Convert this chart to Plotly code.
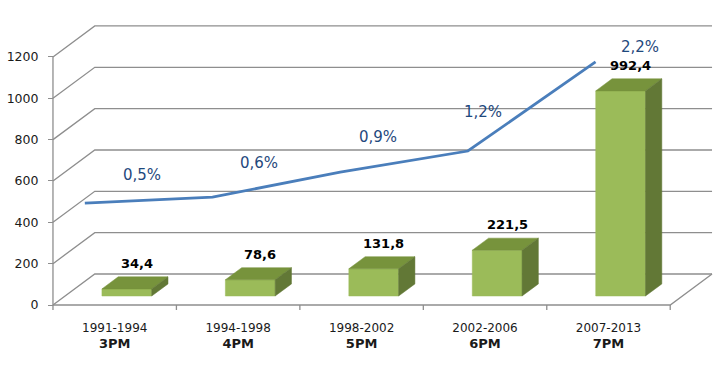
import plotly.graph_objects as go

# ---- data ----
periods = ["1991-1994", "1994-1998", "1998-2002", "2002-2006", "2007-2013"]
programmes = ["3PM", "4PM", "5PM", "6PM", "7PM"]
bar_values = [34.4, 78.6, 131.8, 221.5, 992.4]
bar_labels = ["34,4", "78,6", "131,8", "221,5", "992,4"]
line_values = [493, 522, 643, 745, 1176]          # line height read on the value axis
line_labels = ["0,5%", "0,6%", "0,9%", "1,2%", "2,2%"]
y_ticks = [0, 200, 400, 600, 800, 1000, 1200]

# ---- layout geometry (pixel mapping of the pseudo-3D frame) ----
W, H = 727, 365
L, R, T, B = 44, 720, 8, 312          # plot area in pixels
X0_PX, PX_PER_X = 112, 124.0          # category centre 0 on the front plane
Y0_PX, PX_PER_Y = 305, 0.2067         # value 0 on the front plane
X2_0_PX, PX_PER_X2 = 82, 128.25       # line series category positions

xr = [(L - X0_PX) / PX_PER_X, (R - X0_PX) / PX_PER_X]
yr = [(Y0_PX - B) / PX_PER_Y, (Y0_PX - T) / PX_PER_Y]
x2r = [(L - X2_0_PX) / PX_PER_X2, (R - X2_0_PX) / PX_PER_X2]

DEPTH_X = 42 / PX_PER_X               # full depth offset (x units)
DEPTH_Y = 31 / PX_PER_Y               # full depth offset (value units)
BAR_D1, BAR_D2 = 0.29, 0.68           # bar front/back depth fraction
BAR_HALF = 25 / PX_PER_X

grid_color = "#8e8e8e"
front_col, top_col, side_col = "#9bbb59", "#77933c", "#627836"

fig = go.Figure()

# gridlines (front-left edge -> back wall)
n = len(periods)
gx, gy = [], []
for t in y_ticks:
    gx += [-0.5, -0.5 + DEPTH_X, n - 0.5 + DEPTH_X, None]
    gy += [t, t + DEPTH_Y, t + DEPTH_Y, None]
# floor front edge and right edge
gx += [-0.5, n - 0.5, n - 0.5 + DEPTH_X, None]
gy += [0, 0, DEPTH_Y, None]
# vertical value axis line
gx += [-0.5, -0.5, None]
gy += [0, y_ticks[-1], None]
# category tick marks
tick_len = 5 / PX_PER_Y
for i in range(n + 1):
    gx += [i - 0.5, i - 0.5, None]
    gy += [0, -tick_len, None]
fig.add_trace(go.Scatter(x=gx, y=gy, mode="lines", line=dict(color=grid_color, width=1.3),
                         hoverinfo="skip", showlegend=False))

# bars (front, top, side faces)
b1 = BAR_D1 * DEPTH_Y
sx = BAR_D1 * DEPTH_X
ddx = (BAR_D2 - BAR_D1) * DEPTH_X
ddy = (BAR_D2 - BAR_D1) * DEPTH_Y
for i, v in enumerate(bar_values):
    xl, xr_ = i + sx - BAR_HALF, i + sx + BAR_HALF
    faces = [
        ([xl, xr_, xr_, xl, xl], [b1, b1, v + b1, v + b1, b1], front_col),
        ([xl, xr_, xr_ + ddx, xl + ddx, xl], [v + b1, v + b1, v + b1 + ddy, v + b1 + ddy, v + b1], top_col),
        ([xr_, xr_ + ddx, xr_ + ddx, xr_, xr_], [b1, b1 + ddy, v + b1 + ddy, v + b1, b1], side_col),
    ]
    for fx, fy, c in faces:
        fig.add_trace(go.Scatter(x=fx, y=fy, mode="lines", fill="toself", fillcolor=c,
                                 line=dict(color=c, width=0.5), hoverinfo="skip", showlegend=False))
    fig.add_annotation(x=i + sx + ddx / 2 + 2 / PX_PER_X, y=v + b1 + ddy, text="<b>%s</b>" % bar_labels[i],
                       showarrow=False, yanchor="bottom", yshift=4,
                       font=dict(family="DejaVu Sans", size=13, color="#000000"))

# line series
fig.add_trace(go.Scatter(x=list(range(n)), y=line_values, xaxis="x2", mode="lines",
                         line=dict(color="#4a7ebb", width=2.8), hoverinfo="skip", showlegend=False))
label_shift = [(57, 28), (46, 34), (38, 35), (15, 39), (44, 15)]
for i, lab in enumerate(line_labels):
    fig.add_annotation(x=i, y=line_values[i], xref="x2", yref="y", text=lab, showarrow=False,
                       xshift=label_shift[i][0], yshift=label_shift[i][1],
                       font=dict(family="DejaVu Sans", size=15, color="#1f497d"))

ticktext = ["%s<br><b><span style='font-size:13px'>%s</span></b>" % (p, q) for p, q in zip(periods, programmes)]

fig.update_layout(
    width=W, height=H,
    margin=dict(l=L, r=W - R, t=T, b=H - B),
    paper_bgcolor="white", plot_bgcolor="white",
    showlegend=False,
    xaxis=dict(range=xr, showgrid=False, zeroline=False, showline=False,
               tickvals=list(range(n)), ticktext=ticktext, ticks="", ticklabelstandoff=7,
               tickfont=dict(family="DejaVu Sans", size=12, color="#1a1a1a")),
    xaxis2=dict(range=x2r, overlaying="x", visible=False),
    yaxis=dict(range=yr, showgrid=False, zeroline=False, showline=False,
               anchor="free", position=(50 - L) / (R - L),
               tickvals=y_ticks, ticks="outside", ticklen=5, tickcolor=grid_color, tickwidth=1.3,
               ticklabelstandoff=7,
               tickfont=dict(family="DejaVu Sans", size=12.5, color="#1a1a1a")),
)

fig.write_html("out.html", config={"displayModeBar": False},
               post_script="document.body.style.margin='0';")
